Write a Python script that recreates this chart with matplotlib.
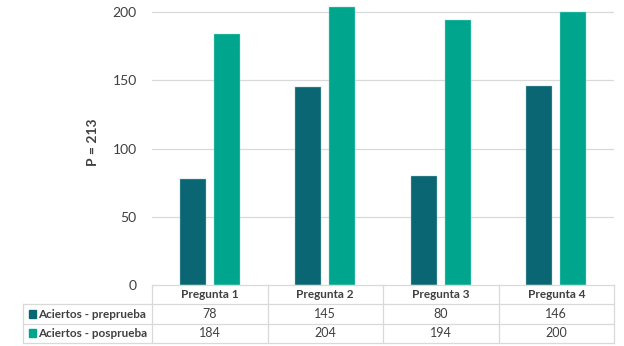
import matplotlib
matplotlib.use("Agg")
import matplotlib.pyplot as plt
from matplotlib.patches import Rectangle
import numpy as np

plt.rcParams['font.family'] = ['Lato', 'DejaVu Sans']

categories = ["Pregunta 1", "Pregunta 2", "Pregunta 3", "Pregunta 4"]
series_names = ["Aciertos - preprueba", "Aciertos - posprueba"]
preprueba = [78, 145, 80, 146]
posprueba = [184, 204, 194, 200]
y_ticks = [0, 50, 100, 150, 200]
y_label = "P = 213"

c_pre = "#0B6673"
c_pos = "#00A58D"
text_c = "#404040"
grid_c = "#D9D9D9"

W, H = 624, 346
fig = plt.figure(figsize=(W / 100, H / 100), dpi=100)

def px_box(x0, y0, x1, y1):
    return [x0 / W, 1 - y1 / H, (x1 - x0) / W, (y1 - y0) / H]

# Chart area
ax = fig.add_axes(px_box(152, 0, 614, 285))
n = len(categories)
x = np.arange(n)
bw = 0.225
gap = 0.07
ax.bar(x - (bw + gap) / 2, preprueba, bw, color=c_pre, edgecolor="#9fc4c8", linewidth=0.3, zorder=3)
ax.bar(x + (bw + gap) / 2, posprueba, bw, color=c_pos, edgecolor="#8fdccd", linewidth=0.3, zorder=3)
ax.set_xlim(-0.5, n - 0.5)
ax.set_ylim(0, 209)
ax.set_yticks(y_ticks)
ax.set_yticklabels([str(t) for t in y_ticks], fontsize=10, color=text_c)
ax.tick_params(axis="y", length=0, pad=11)
ax.set_xticks([])
for s in ax.spines.values():
    s.set_visible(False)
for t in y_ticks[1:]:
    ax.axhline(t, color=grid_c, linewidth=0.9, zorder=1)
ax.set_ylabel(y_label, fontsize=10, color=text_c, fontweight="bold", labelpad=10)

# Data table
tax = fig.add_axes(px_box(23, 285, 614, 343))
label_w = (152 - 23) / ((614 - 152) / n)
tax.set_xlim(-0.5 - label_w, n - 0.5)
tax.set_ylim(3, 0)
tax.axis("off")

lw = 0.9
# header row borders (data columns only)
tax.plot([-0.5, n - 0.5], [0, 0], color=grid_c, lw=lw, clip_on=False)
for i in range(n + 1):
    tax.plot([i - 0.5, i - 0.5], [0, 3], color=grid_c, lw=lw, clip_on=False)
for r in (1, 2, 3):
    tax.plot([-0.5 - label_w, n - 0.5], [r, r], color=grid_c, lw=lw, clip_on=False)
tax.plot([-0.5 - label_w, -0.5 - label_w], [1, 3], color=grid_c, lw=lw, clip_on=False)

for i, cat in enumerate(categories):
    tax.text(i, 0.5, cat, ha="center", va="center", fontsize=8.5, color=text_c, fontweight="bold")

rows = [(series_names[0], preprueba, c_pre), (series_names[1], posprueba, c_pos)]
for r, (name, vals, col) in enumerate(rows):
    yc = r + 1.5
    sq_x = -0.5 - label_w + 0.05
    tax.add_patch(Rectangle((sq_x, yc - 0.2), 0.06, 0.4, color=col, clip_on=False))
    tax.text(sq_x + 0.08, yc, name, ha="left", va="center", fontsize=8.5, color=text_c, fontweight="bold")
    for i, v in enumerate(vals):
        tax.text(i, yc, str(v), ha="center", va="center", fontsize=9, color=text_c)

fig.savefig("out.png", dpi=100)
